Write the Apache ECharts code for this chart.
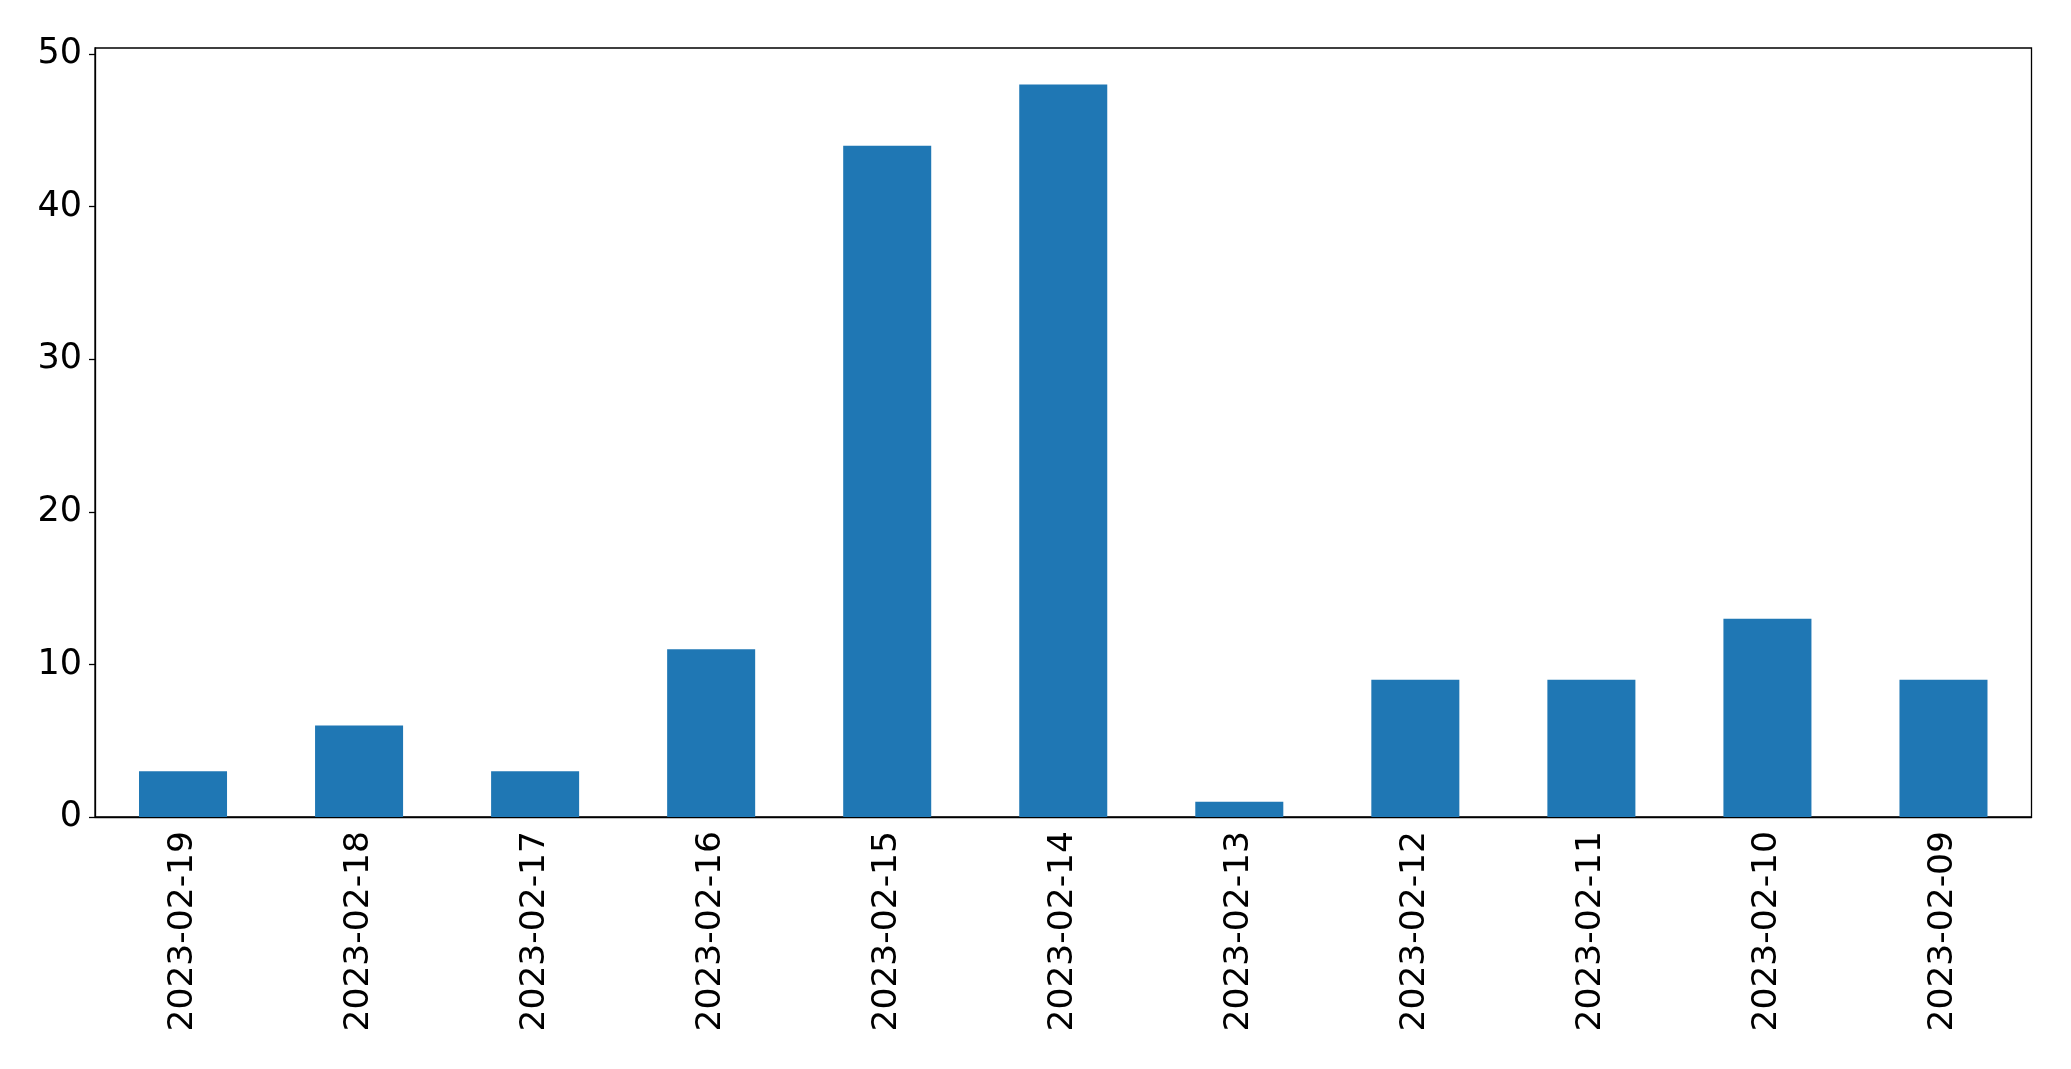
<!DOCTYPE html>
<html>
<head>
<meta charset="utf-8">
<script src="https://cdn.jsdelivr.net/npm/echarts@6/dist/echarts.min.js"></script>
<style>
html,body{margin:0;padding:0;background:#fff;}
#chart{width:2071px;height:1069px;}
</style>
</head>
<body>
<div id="chart"></div>
<script>
const categories = ['2023-02-19','2023-02-18','2023-02-17','2023-02-16','2023-02-15','2023-02-14','2023-02-13','2023-02-12','2023-02-11','2023-02-10','2023-02-09'];
const values = [3, 6, 3, 11, 44, 48, 1, 9, 9, 13, 9];
const yTicks = [0, 10, 20, 30, 40, 50];

const chart = echarts.init(document.getElementById('chart'), null, {renderer: 'canvas'});
const font = 'DejaVu Sans';
chart.setOption({
  animation: false,
  backgroundColor: '#ffffff',
  grid: {left: 95, top: 48, right: 39.5, bottom: 252, show: true, borderColor: '#000', borderWidth: 1.3, containLabel: false},
  xAxis: {
    type: 'category',
    data: categories,
    axisLine: {lineStyle: {color: '#000', width: 1.3}},
    axisTick: {alignWithLabel: true, length: 6, lineStyle: {color: '#000', width: 1.3}},
    axisLabel: {rotate: 90, margin: 14, color: '#000', fontFamily: font, fontSize: 34.5},
    splitLine: {show: false}
  },
  yAxis: {
    type: 'value',
    min: 0,
    max: 50.4,
    interval: 10,
    axisLine: {show: true, lineStyle: {color: '#000', width: 1.3}},
    axisTick: {show: true, length: 6, customValues: yTicks, lineStyle: {color: '#000', width: 1.3}},
    axisLabel: {margin: 13, color: '#000', fontFamily: font, fontSize: 35, customValues: yTicks},
    splitLine: {show: false}
  },
  series: [{
    type: 'bar',
    data: values,
    barWidth: '50%',
    itemStyle: {color: '#1f77b4'}
  }]
});
</script>
</body>
</html>
